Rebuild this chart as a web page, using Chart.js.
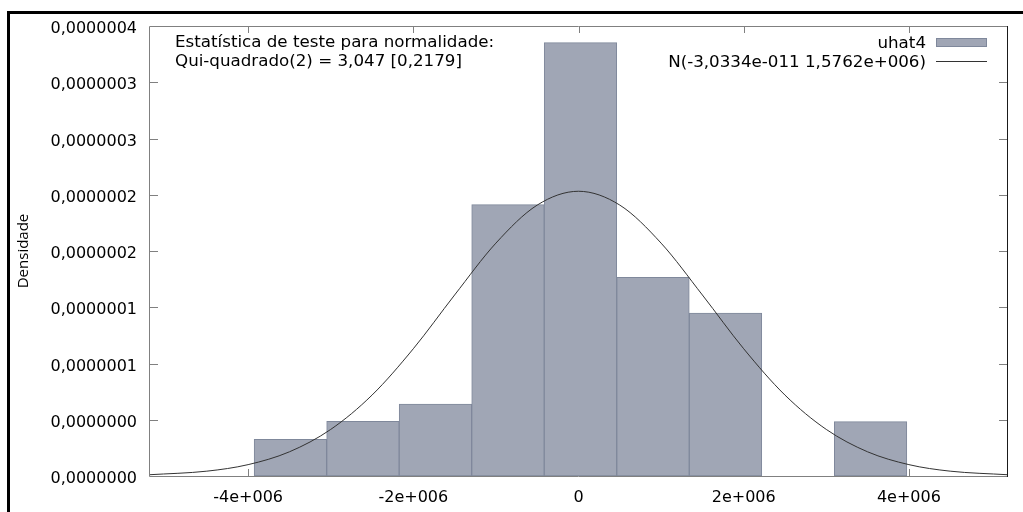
<!DOCTYPE html>
<html>
<head>
<meta charset="utf-8">
<script src="https://cdn.jsdelivr.net/npm/chart.js@4.4.1/dist/chart.umd.min.js"></script>
<style>
    html, body { margin: 0; padding: 0; background: #fff; }
    canvas { display: block; }
</style>
</head>
<body>
<canvas id="myChart" width="1023" height="512"></canvas>
<script>
// histogram bins (centres) and densities
const binCenters = [-3.488e6, -2.610e6, -1.732e6, -0.854e6, 0.024e6, 0.902e6, 1.780e6, 2.658e6, 3.536e6];
const binDensity = [3.26e-8, 4.86e-8, 6.40e-8, 2.412e-7, 3.852e-7, 1.766e-7, 1.449e-7, 0, 4.83e-8];

// normal curve
const curveX = [-5.2e6, -4.5e6, -4e6, -3.5e6, -3e6, -2.5e6, -2e6, -1.5e6, -1e6, -0.5e6, 0,
    0.5e6, 1e6, 1.5e6, 2e6, 2.5e6, 3e6, 3.5e6, 4e6, 4.5e6, 5.2e6];
const curveY = [0.011e-7, 0.043e-7, 0.101e-7, 0.215e-7, 0.414e-7, 0.719e-7, 1.131e-7, 1.609e-7, 2.07e-7, 2.408e-7, 2.531e-7,
    2.408e-7, 2.07e-7, 1.609e-7, 1.131e-7, 0.719e-7, 0.414e-7, 0.215e-7, 0.101e-7, 0.043e-7, 0.011e-7];

const xTickValues = [-4e6, -2e6, 0, 2e6, 4e6];
const xTickLabels = ['-4e+006', '-2e+006', '0', '2e+006', '4e+006'];
const yTickValues = [0, 5e-8, 1e-7, 1.5e-7, 2e-7, 2.5e-7, 3e-7, 3.5e-7, 4e-7];
const yTickLabels = ['0,0000000', '0,0000000', '0,0000001', '0,0000001', '0,0000002',
    '0,0000002', '0,0000003', '0,0000003', '0,0000004'];

const seriesLabels = ['uhat4', 'N(-3,0334e-011 1,5762e+006)'];
const testText = ['Estatística de teste para normalidade:', 'Qui-quadrado(2) = 3,047 [0,2179]'];

const barFill = '#a0a6b5';
const barEdge = '#7f889b';
const curveColor = '#333333';
const axisGray = '#808080';
const font = 'DejaVu Sans';

const gnuplotLook = {
    id: 'gnuplotLook',
    beforeDraw(chart) {
        const c = chart.ctx;
        c.save();
        c.fillStyle = '#fff';
        c.fillRect(0, 0, chart.width, chart.height);
        c.fillStyle = '#000';
        c.fillRect(8, 11, chart.width - 8, 3);
        c.fillRect(7, 11, 3, chart.height - 11);
        c.restore();
    },
    beforeDatasetsDraw(chart) {
        const c = chart.ctx;
        const a = chart.chartArea;
        const xs = chart.scales.x, ys = chart.scales.y;
        c.save();
        c.strokeStyle = axisGray;
        c.lineWidth = 1;
        c.beginPath();
        xTickValues.forEach(v => {
            const px = Math.round(xs.getPixelForValue(v)) + 0.5;
            c.moveTo(px, a.bottom); c.lineTo(px, a.bottom - 7);
            c.moveTo(px, a.top); c.lineTo(px, a.top + 7);
        });
        yTickValues.slice(1, -1).forEach(v => {
            const py = Math.round(ys.getPixelForValue(v)) + 0.5;
            c.moveTo(a.left, py); c.lineTo(a.left + 9, py);
            c.moveTo(a.right, py); c.lineTo(a.right - 9, py);
        });
        c.stroke();
        c.restore();
    },
    afterDatasetsDraw(chart) {
        const c = chart.ctx;
        const a = chart.chartArea;
        c.save();
        c.lineWidth = 1;
        c.strokeStyle = axisGray;
        c.beginPath();
        c.moveTo(a.left + 0.5, a.bottom + 0.5);
        c.lineTo(a.left + 0.5, a.top + 0.5);
        c.lineTo(a.right - 0.5, a.top + 0.5);
        c.moveTo(a.left + 0.5, a.bottom + 0.5);
        c.lineTo(a.right - 0.5, a.bottom + 0.5);
        c.stroke();
        c.strokeStyle = '#1a1a1a';
        c.beginPath();
        c.moveTo(a.right - 0.5, a.top);
        c.lineTo(a.right - 0.5, a.bottom + 1);
        c.stroke();

        // test statistic text
        c.fillStyle = '#000';
        c.font = '16.7px "' + font + '"';
        c.textAlign = 'left';
        c.textBaseline = 'alphabetic';
        c.fillText(testText[0], 175, 47);
        c.fillText(testText[1], 175, 66);

        // legend
        const ds = chart.data.datasets;
        c.textAlign = 'right';
        c.fillText(ds[0].label, 926, 48);
        c.fillText(ds[1].label, 926, 67);
        c.fillStyle = ds[0].backgroundColor;
        c.fillRect(936, 38, 51, 9);
        c.strokeStyle = ds[0].borderColor;
        c.strokeRect(936.5, 38.5, 50, 8);
        c.strokeStyle = ds[1].borderColor;
        c.beginPath();
        c.moveTo(936, 61.5);
        c.lineTo(987, 61.5);
        c.stroke();
        c.restore();
    }
};

new Chart(document.getElementById('myChart'), {
    type: 'bar',
    data: {
        datasets: [{
            type: 'bar',
            label: seriesLabels[0],
            data: binCenters.map((x, i) => ({x: x, y: binDensity[i]})),
            backgroundColor: barFill,
            borderColor: barEdge,
            borderWidth: 1,
            borderSkipped: false,
            barPercentage: 1,
            categoryPercentage: 1,
            order: 1
        }, {
            type: 'line',
            label: seriesLabels[1],
            data: curveX.map((x, i) => ({x: x, y: curveY[i]})),
            borderColor: curveColor,
            borderWidth: 1,
            pointRadius: 0,
            fill: false,
            cubicInterpolationMode: 'monotone',
            order: 0
        }]
    },
    options: {
        responsive: false,
        animation: false,
        devicePixelRatio: 1,
        layout: {padding: {left: 0, right: 15, top: 26, bottom: 0}},
        plugins: {
            legend: {display: false},
            tooltip: {enabled: false}
        },
        scales: {
            x: {
                type: 'linear',
                min: -5.2e6,
                max: 5.2e6,
                offset: false,
                grid: {display: false, drawTicks: false},
                border: {display: false},
                afterBuildTicks: s => { s.ticks = xTickValues.map(v => ({value: v})); },
                afterFit: s => { s.height = 36; },
                ticks: {
                    autoSkip: false,
                    maxRotation: 0,
                    padding: 12,
                    color: '#000',
                    font: {family: font, size: 16},
                    callback: (v, i) => xTickLabels[i]
                }
            },
            y: {
                min: 0,
                max: 4e-7,
                grid: {display: false, drawTicks: false},
                border: {display: false},
                afterBuildTicks: s => { s.ticks = yTickValues.map(v => ({value: v})); },
                afterFit: s => { s.width = 149; },
                ticks: {
                    autoSkip: false,
                    padding: 12,
                    labelOffset: 3,
                    color: '#000',
                    font: {family: font, size: 16},
                    callback: (v, i) => yTickLabels[i]
                },
                title: {
                    display: true,
                    text: 'Densidade',
                    color: '#000',
                    padding: {top: 15, bottom: 0},
                    font: {family: 'Open Sans', size: 15}
                }
            }
        }
    },
    plugins: [gnuplotLook]
});
</script>
</body>
</html>
